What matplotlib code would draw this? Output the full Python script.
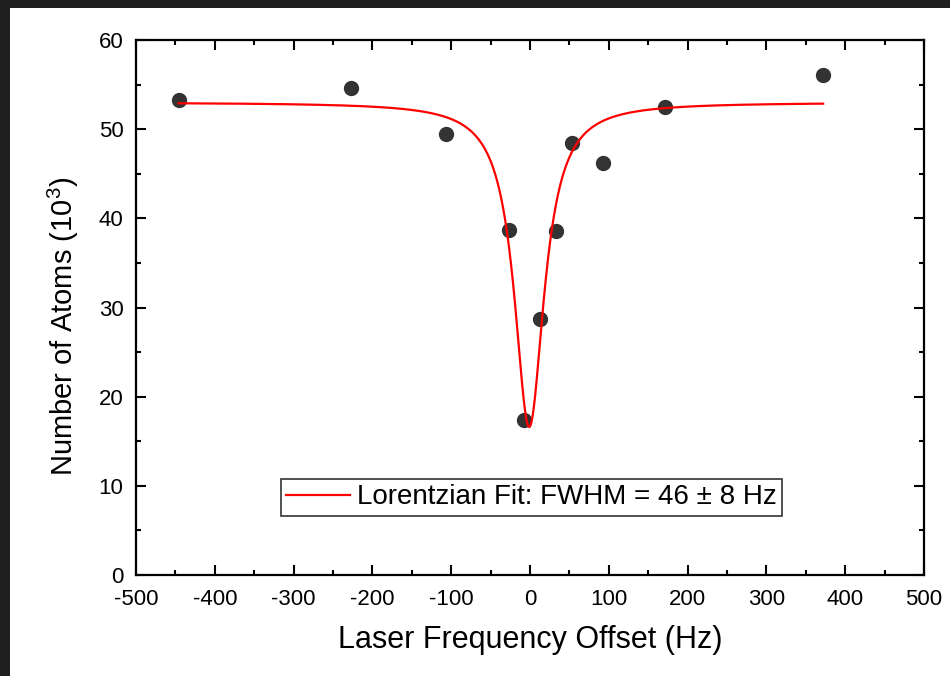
import numpy as np
import matplotlib
matplotlib.use("Agg")
import matplotlib.pyplot as plt
from matplotlib.ticker import MultipleLocator
from matplotlib.patches import Rectangle

plt.rcParams['font.family'] = ['Liberation Sans', 'DejaVu Sans']
plt.rcParams['mathtext.fontset'] = 'custom'
plt.rcParams['mathtext.rm'] = 'Liberation Sans'
plt.rcParams['axes.unicode_minus'] = False

# Measured atom numbers (10^3) vs laser frequency offset (Hz)
offset_hz = [-446, -227, -107, -27, -8, 13, 33, 53, 93, 171, 372]
atoms_k = [53.3, 54.6, 49.5, 38.7, 17.4, 28.7, 38.6, 48.4, 46.2, 52.5, 56.1]

# Lorentzian fit parameters
fit_center = -1.0
fit_fwhm = 46.0
fit_baseline = 53.0
fit_depth = 36.4
fit_range = (-446, 372)

fig = plt.figure(figsize=(9.5, 6.76), dpi=100)
fig.patch.set_facecolor('#1f1f1f')
fig.patches.append(Rectangle((10 / 950, 0), 1, (676 - 8) / 676,
                             transform=fig.transFigure, facecolor='white',
                             edgecolor='none', zorder=-5))

ax = fig.add_axes([136 / 950, 1 - 575 / 676, 788 / 950, 535 / 676])
ax.set_facecolor('white')

xf = np.linspace(fit_range[0], fit_range[1], 2000)
hw = fit_fwhm / 2
yf = fit_baseline - fit_depth * hw**2 / ((xf - fit_center)**2 + hw**2)

ax.plot(offset_hz, atoms_k, 'o', color='#333333', markersize=10, zorder=3)
ax.plot(xf, yf, color='#ff0000', lw=1.6, zorder=4,
        label='Lorentzian Fit: FWHM = 46 ± 8 Hz')

ax.set_xlim(-500, 500)
ax.set_ylim(0, 60)
ax.xaxis.set_major_locator(MultipleLocator(100))
ax.xaxis.set_minor_locator(MultipleLocator(50))
ax.yaxis.set_major_locator(MultipleLocator(10))
ax.yaxis.set_minor_locator(MultipleLocator(5))
ax.tick_params(which='both', direction='in', top=True, right=True,
               width=1.5, labelsize=16, colors='black')
ax.tick_params(which='major', length=7.2)
ax.tick_params(which='minor', length=3.6)
ax.tick_params(axis='x', which='major', pad=10)
ax.tick_params(axis='y', which='major', pad=9)
for s in ax.spines.values():
    s.set_linewidth(1.6)

ax.set_xlabel('Laser Frequency Offset (Hz)', fontsize=22)
ax.xaxis.set_label_coords(0.5, -0.122, transform=ax.transAxes)
ax.xaxis.label.set_va('center')
ax.set_ylabel('Number of Atoms (10$^3$)', fontsize=21)
ax.yaxis.set_label_coords(-0.092, 0.464, transform=ax.transAxes)
ax.yaxis.label.set_va('center')

leg = ax.legend(loc='center', bbox_to_anchor=(0.502, 0.145), fontsize=20,
                frameon=True, fancybox=False, edgecolor='black',
                handlelength=2.3, handletextpad=0.25, borderpad=0.2,
                borderaxespad=0)
leg.get_frame().set_linewidth(1.2)

fig.savefig('out.png', dpi=100, facecolor=fig.get_facecolor())
